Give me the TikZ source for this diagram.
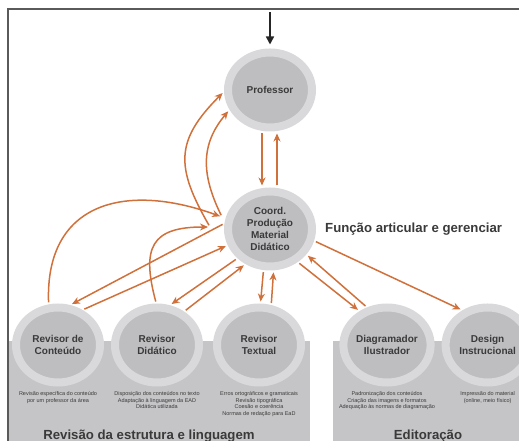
\documentclass[tikz,border=0pt]{standalone}
\usepackage{fontspec}
\setmainfont{Liberation Sans}
\usepackage{tikz}
\usetikzlibrary{arrows.meta, positioning, calc, shapes.geometric}
\definecolor{flowc}{RGB}{208,112,58}
\definecolor{ringc}{RGB}{217,217,219}
\definecolor{corec}{RGB}{190,190,193}
\definecolor{bandc}{RGB}{197,197,199}
\definecolor{inkc}{RGB}{58,58,58}
\definecolor{edgec}{RGB}{90,90,90}

\begin{document}
\begin{tikzpicture}[x=1pt, y=1pt,
    role/.style={ellipse, draw=ringc, fill=corec, line width=8pt, minimum width=84pt, minimum height=75pt, inner sep=0pt, align=center, text=inkc, font=\bfseries\fontsize{10}{12}\selectfont},
    note/.style={align=center, text=inkc, inner sep=0pt, font=\fontsize{5.5}{6.5}\selectfont},
    title/.style={text=inkc, inner sep=0pt, font=\bfseries\fontsize{13.2}{15}\selectfont},
    link/.style={->, draw=flowc, line width=1.5pt, shorten <=2pt, shorten >=2pt},
    >={Stealth[length=8pt, width=7pt]}]
    \useasboundingbox (0,0) rectangle (519,441);

    \fill[bandc] (8,0) rectangle (310,100);
    \fill[bandc] (333,0) rectangle (519,100);
    \draw[edgec, line width=1.2pt] (519,432) -- (8,432) -- (8,0);

    \node[role] (prof) at (270,351) {Professor};
    \node[role] (coord) at (270,212) {Coord.\\Produção\\Material\\Didático};
    \node[role] (cont) at (58,96) {Revisor de\\Conteúdo};
    \node[role, right=7pt of cont] (did) {Revisor\\Didático};
    \node[role, right=10pt of did] (textual) {Revisor\\Textual};
    \node[role] (diag) at (387,96) {Diagramador\\Ilustrador};
    \node[role, right=7pt of diag] (design) {Design\\Instrucional};

    \node[note, below=5pt of cont] (contnote) {Revisão específica do conteúdo\\por um professor da área};
    \node[note, below=5pt of did] (didnote) {Disposição dos conteúdos no texto\\Adaptação à linguagem da EAD\\Didática utilizada};
    \node[note, below=5pt of textual] (textnote) {Erros ortográficos e gramaticais\\Revisão tipográfica\\Coesão e coerência\\Normas de redação para EaD};
    \node[note, below=5pt of diag] (diagnote) {Padronização dos conteúdos\\Criação das imagens e formatos\\Adequação às normas de diagramação};
    \node[note, below=5pt of design] (designnote) {Impressão do material\\(online, meio físico)};

    \node[title, right=9pt of coord] (func) {Função articular e gerenciar};
    \node[title, anchor=base] (revtitle) at (149,1.5) {Revisão da estrutura e linguagem};
    \node[title, anchor=base] (edtitle) at (428,1.5) {Editoração};

    \draw[-{Triangle[length=8pt, width=8pt]}, line width=1.6pt, black!85] ([yshift=36pt]prof.north) -- ([yshift=4pt]prof.north);

    \coordinate (cA) at ($(coord.center)+(-60,2)$);
    \coordinate (cB) at ($(coord.center)+(-48,12)$);

    \draw[link] ([xshift=-8pt]prof.south) -- ([xshift=-8pt]coord.north);
    \draw[link] ([xshift=7pt]coord.north) -- ([xshift=7pt]prof.south);
    \draw[link] (coord.261) -- (textual.88);
    \draw[link] (textual.73) -- (coord.275);
    \draw[link] (coord.173) -- (cont.73);
    \draw[link] (cont.55) -- (coord.201);
    \draw[link] (coord.222) -- (did.72);
    \draw[link] (did.51) -- (coord.235);
    \draw[link] (coord.310) -- (diag.129);
    \draw[link] (diag.118) -- (coord.325);
    \draw[link] (coord.345) -- (design.126);

    \draw[link] (cA) to[out=120, in=225, looseness=1.3] (prof.182);
    \draw[link] (cB) to[out=116, in=230, looseness=1.1] (prof.206);
    \draw[link] (cont.103) to[out=92, in=160, looseness=1.35] (cB);
    \draw[link] (did.91) to[out=105, in=180, looseness=1.6] (cA);
\end{tikzpicture}
\end{document}
